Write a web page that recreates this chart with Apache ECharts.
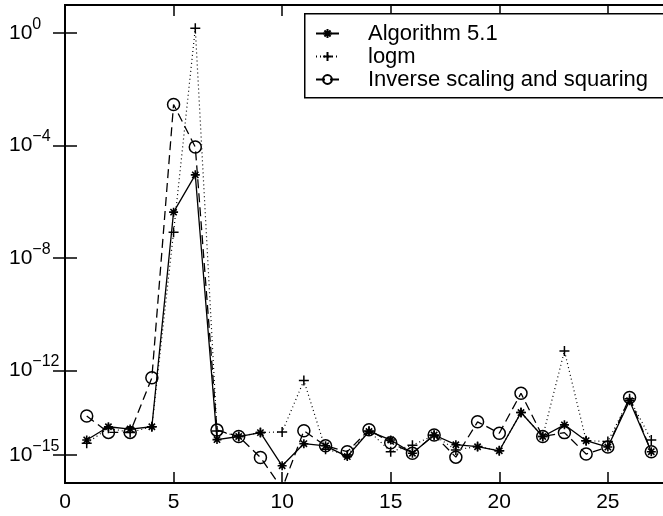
<!DOCTYPE html>
<html>
<head>
<meta charset="utf-8">
<script src="https://cdn.jsdelivr.net/npm/echarts@6/dist/echarts.min.js"></script>
<style>html,body{margin:0;padding:0;background:#fff;}#c{width:663px;height:516px;}</style>
</head>
<body>
<div id="c"></div>
<script>
const xValues = [1,2,3,4,5,6,7,8,9,10,11,12,13,14,15,16,17,18,19,20,21,22,23,24,25,26,27];
const algorithm51 = [3.4e-15,1.0e-14,8.3e-15,1.0e-14,4.3e-7,9.1e-6,3.5e-15,4.5e-15,6.2e-15,4.1e-16,2.5e-15,2.1e-15,8.7e-16,6.8e-15,3.4e-15,1.15e-15,5.1e-15,2.3e-15,1.95e-15,1.4e-15,3.2e-14,4.5e-15,1.17e-14,3.2e-15,1.9e-15,8.5e-14,1.3e-15];
const logm = [2.6e-15,8.9e-15,6.3e-15,1.0e-14,8.3e-8,1.48,7.1e-15,4.5e-15,6.3e-15,6.5e-15,4.4e-13,1.6e-15,1.0e-15,7.1e-15,1.3e-15,2.2e-15,5.0e-15,1.5e-15,2.0e-15,1.4e-15,3.2e-14,4.5e-15,5.0e-12,3.2e-15,3.0e-15,1.0e-13,3.4e-15];
const inverseSS = [2.4e-14,6.3e-15,6.3e-15,5.5e-13,2.9e-3,8.9e-5,7.6e-15,4.5e-15,8.1e-16,6.3e-17,7.2e-15,2.1e-15,1.3e-15,7.8e-15,2.7e-15,1.15e-15,5.1e-15,8.3e-16,1.5e-14,5.9e-15,1.55e-13,4.5e-15,6.2e-15,1.07e-15,1.9e-15,1.1e-13,1.3e-15];
const seriesNames = ['Algorithm 5.1','logm','Inverse scaling and squaring'];
const yTickValues = [1,1e-4,1e-8,1e-12,1e-15];
const xTickInterval = 5;

const FONT = 'Liberation Sans, Arial, Helvetica, sans-serif';
const pairs = arr => xValues.map((x,i)=>[x,arr[i]]);
const starPath = 'path://M0,5L10,5M5,0L5,10M1.5,1.5L8.5,8.5M1.5,8.5L8.5,1.5';
const plusPath = 'path://M0,5L10,5M5,0L5,10';

function supLabel(v){
  const e = Math.round(Math.log10(v));
  return '{b|10}{s|' + (e<0 ? '\u2212' + (-e) : String(e)) + '}';
}

const chart = echarts.init(document.getElementById('c'), null, {renderer:'canvas'});
const axisLine = {show:true, lineStyle:{color:'#000', width:2}};
const tickStyle = {color:'#000', width:1.5};

chart.setOption({
  animation:false,
  backgroundColor:'#fff',
  textStyle:{fontFamily:FONT},
  grid:{left:65, top:5, width:608, height:478, containLabel:false, outerBoundsMode:'none'},
  graphic:[
    {type:'rect', left:304, top:13, shape:{width:420, height:84},
     style:{fill:'#fff', stroke:'#000', lineWidth:1.5}, z:8, silent:true}
  ],
  xAxis:[
    {type:'value', position:'bottom', min:0, max:28, interval:xTickInterval,
     axisLine:axisLine, splitLine:{show:false},
     axisTick:{show:true, inside:true, length:11, lineStyle:tickStyle},
     axisLabel:{color:'#000', fontSize:21, fontFamily:FONT, margin:9, showMaxLabel:false}},
    {type:'value', position:'top', min:0, max:28, interval:xTickInterval,
     axisLine:axisLine, splitLine:{show:false},
     axisTick:{show:true, inside:true, length:11, lineStyle:tickStyle},
     axisLabel:{show:false}}
  ],
  yAxis:[
    {type:'log', logBase:10, position:'left', min:1e-16, max:10,
     axisLine:axisLine, splitLine:{show:false}, minorTick:{show:false},
     axisTick:{show:true, inside:true, length:12, lineStyle:tickStyle, customValues:yTickValues},
     axisLabel:{show:true, customValues:yTickValues, align:'left', margin:56,
       formatter:supLabel,
       rich:{
         b:{fontSize:21, fontFamily:FONT, color:'#000'},
         s:{fontSize:16, fontFamily:FONT, color:'#000', padding:[0,0,17,0]}
       }}},
    {type:'log', logBase:10, position:'right', min:1e-16, max:10,
     axisLine:axisLine, splitLine:{show:false},
     axisTick:{show:true, inside:true, length:12, lineStyle:tickStyle, customValues:yTickValues},
     axisLabel:{show:false}}
  ],
  legend:{
    show:true, orient:'vertical', left:304, top:13,
    data:seriesNames,
    itemWidth:23, itemHeight:11, itemGap:0,
    padding:[9,10,6,11],
    borderWidth:0, backgroundColor:'transparent',
    textStyle:{fontSize:22, fontFamily:FONT, color:'#000', lineHeight:23, padding:[0,0,0,24]},
    selectedMode:false, z:10
  },
  series:[
    {name:seriesNames[0], type:'line', data:pairs(algorithm51), xAxisIndex:0, yAxisIndex:0,
     symbol:starPath, symbolSize:9, showAllSymbol:true,
     lineStyle:{color:'#000', width:1.3, type:'solid'},
     itemStyle:{color:'none', borderColor:'#000', borderWidth:1.6},
     emphasis:{disabled:true}},
    {name:seriesNames[1], type:'line', data:pairs(logm), xAxisIndex:0, yAxisIndex:0,
     symbol:plusPath, symbolSize:10, showAllSymbol:true,
     lineStyle:{color:'#000', width:1.2, type:[1,3]},
     itemStyle:{color:'none', borderColor:'#000', borderWidth:1.5},
     emphasis:{disabled:true}},
    {name:seriesNames[2], type:'line', data:pairs(inverseSS), xAxisIndex:0, yAxisIndex:0,
     symbol:'circle', symbolSize:12, showAllSymbol:true,
     lineStyle:{color:'#000', width:1.3, type:[9,5]},
     itemStyle:{color:'rgba(0,0,0,0)', borderColor:'#000', borderWidth:1.5},
     emphasis:{disabled:true}}
  ]
});
</script>
</body>
</html>
